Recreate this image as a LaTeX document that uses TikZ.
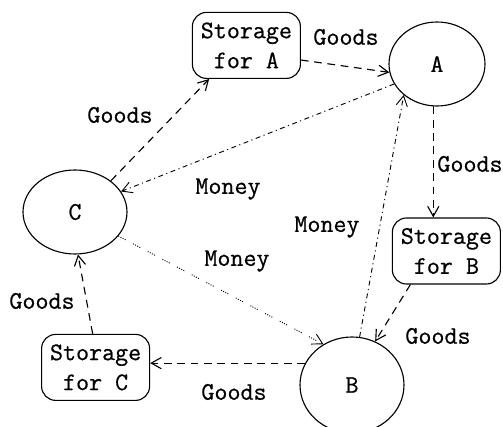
\documentclass[tikz,border=0pt]{standalone}
\usepackage{fontspec}
\setmonofont{Latin Modern Mono}[FakeBold=0.6]
\usetikzlibrary{arrows.meta,shapes.geometric}

\tikzset{
  storage/.style={draw, line width=0.8pt, rounded corners=10pt, align=center,
    minimum width=2.7cm, minimum height=1.65cm, inner sep=1pt},
  agent/.style={draw, ellipse, line width=0.8pt, inner sep=0pt},
  goods/.style={->, line width=0.8pt, dash pattern=on 5.5pt off 4pt},
  money/.style={->, line width=0.65pt, dash pattern=on 3.5pt off 2.5pt on 0.8pt off 2.5pt},
  moneydot/.style={->, line width=0.65pt,
    dash pattern=on 0.7pt off 1pt on 0.7pt off 1pt on 0.7pt off 1pt on 0.7pt off 6pt},
  lbl/.style={inner sep=0pt}
}

\begin{document}
\begin{tikzpicture}[>={Straight Barb[length=2.5mm,width=2.8mm]},
    font=\ttfamily\fontsize{18}{21.3}\selectfont]
    \clip (0,0) rectangle (12.575,10.675);

    % The three traders
    \node[agent, minimum width=2.4cm, minimum height=2.1cm] (A) at (10.925,9.075) {A};
    \node[agent, minimum width=2.6cm, minimum height=2.1cm] (C) at (1.875,5.375) {C};
    \node[agent, minimum width=2.6cm, minimum height=2.4cm] (B) at (8.8,1.05) {B};

    % Their storages
    \node[storage] (stA) at (6.16,9.54) {Storage\\for A};
    \node[storage] (stB) at (11.16,4.4) {Storage\\for B};
    \node[storage] (stC) at (2.39,1.49) {Storage\\for C};

    % Goods
    \draw[goods] (stA.-15) -- (A.190);
    \draw[goods] (C.41) -- (stA.222);
    \draw[goods] (A.265) -- (A.265 |- stB.north);
    \draw[goods] (stB.223) -- (B.62);
    \draw[goods] (B.155) -- (B.155 -| stC.east);
    \draw[goods] (stC.95) -- (C.-86);

    % Money
    \draw[money] (A.205) -- (C.24);
    \draw[moneydot] (C.-29) -- (B.125);
    \draw[money] (B.81) -- (A.223);

    % Labels
    \node[lbl] (gAB) at (8.65,9.75) {Goods};
    \node[lbl] (gCA) at (3.0,7.8) {Goods};
    \node[lbl] (gAS) at (11.75,6.575) {Goods};
    \node[lbl] (gSC) at (1.05,3.15) {Goods};
    \node[lbl] (gBS) at (5.85,0.875) {Goods};
    \node[lbl] (gSB) at (10.95,2.275) {Goods};
    \node[lbl] (mAC) at (5.7,5.95) {Money};
    \node[lbl] (mCB) at (5.925,4.15) {Money};
    \node[lbl] (mBA) at (8.175,5.0) {Money};
\end{tikzpicture}
\end{document}
